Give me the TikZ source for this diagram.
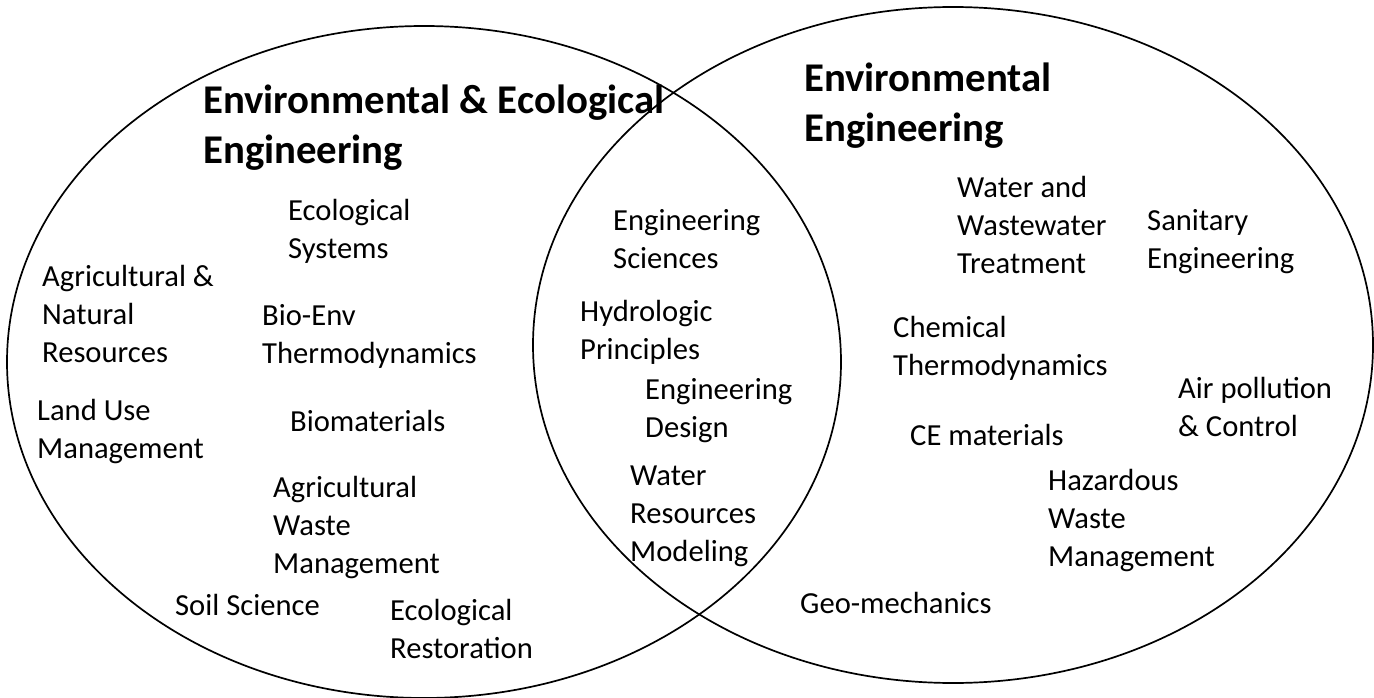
\documentclass[tikz,border=0pt]{standalone}
\usepackage{fontspec}
\setmainfont{Carlito}
\begin{document}
\begin{tikzpicture}[x=1pt,y=-1pt,
  field/.style={draw=black, line width=1.7pt},
  topic/.style={anchor=north west, inner sep=0pt, align=left,
    font=\fontsize{30.6}{38}\selectfont, execute at begin node=\vphantom{l}},
  heading/.style={anchor=north west, inner sep=0pt, align=left,
    font=\bfseries\fontsize{40.8}{50}\selectfont, execute at begin node=\vphantom{l}}]
\useasboundingbox (0,0) rectangle (1374,698);

% the two overlapping fields
\draw[field] (424,362) ellipse [x radius=417pt, y radius=336pt];
\draw[field] (953,345) ellipse [x radius=420pt, y radius=338pt];

% headings
\node[heading] (eeetitle) at (203,85) {Environmental \& Ecological\\Engineering};
\node[heading] (envtitle) at (804,63) {Environmental\\Engineering};

% Environmental & Ecological Engineering only
\node[topic] (ecosys) at (288,199) {Ecological\\Systems};
\node[topic] (agnat) at (42,265) {Agricultural \&\\Natural\\Resources};
\node[topic] (bioenv) at (262,304) {Bio-Env\\Thermodynamics};
\node[topic] (landuse) at (37,399) {Land Use\\Management};
\node[topic] (biomat) at (290,410) {Biomaterials};
\node[topic] (agwaste) at (273,476) {Agricultural\\Waste\\Management};
\node[topic] (soil) at (175,594) {Soil Science};
\node[topic] (ecorest) at (390,599) {Ecological\\Restoration};

% shared topics
\node[topic] (engsci) at (613,209) {Engineering\\Sciences};
\node[topic] (hydro) at (580,300) {Hydrologic\\Principles};
\node[topic] (engdes) at (645,378) {Engineering\\Design};
\node[topic] (watres) at (630,466) {Water\\Resources\\Modeling};

% Environmental Engineering only
\node[topic] (wwt) at (957,176) {Water and\\Wastewater\\Treatment};
\node[topic] (sanit) at (1147,209) {Sanitary\\Engineering};
\node[topic] (chemthermo) at (893,316) {Chemical\\Thermodynamics};
\node[topic] (airpol) at (1178,377) {Air pollution\\\& Control};
\node[topic] (cemat) at (910,424) {CE materials};
\node[topic] (hazwaste) at (1048,469) {Hazardous\\Waste\\Management};
\node[topic] (geomech) at (800,592) {Geo-mechanics};
\end{tikzpicture}
\end{document}
